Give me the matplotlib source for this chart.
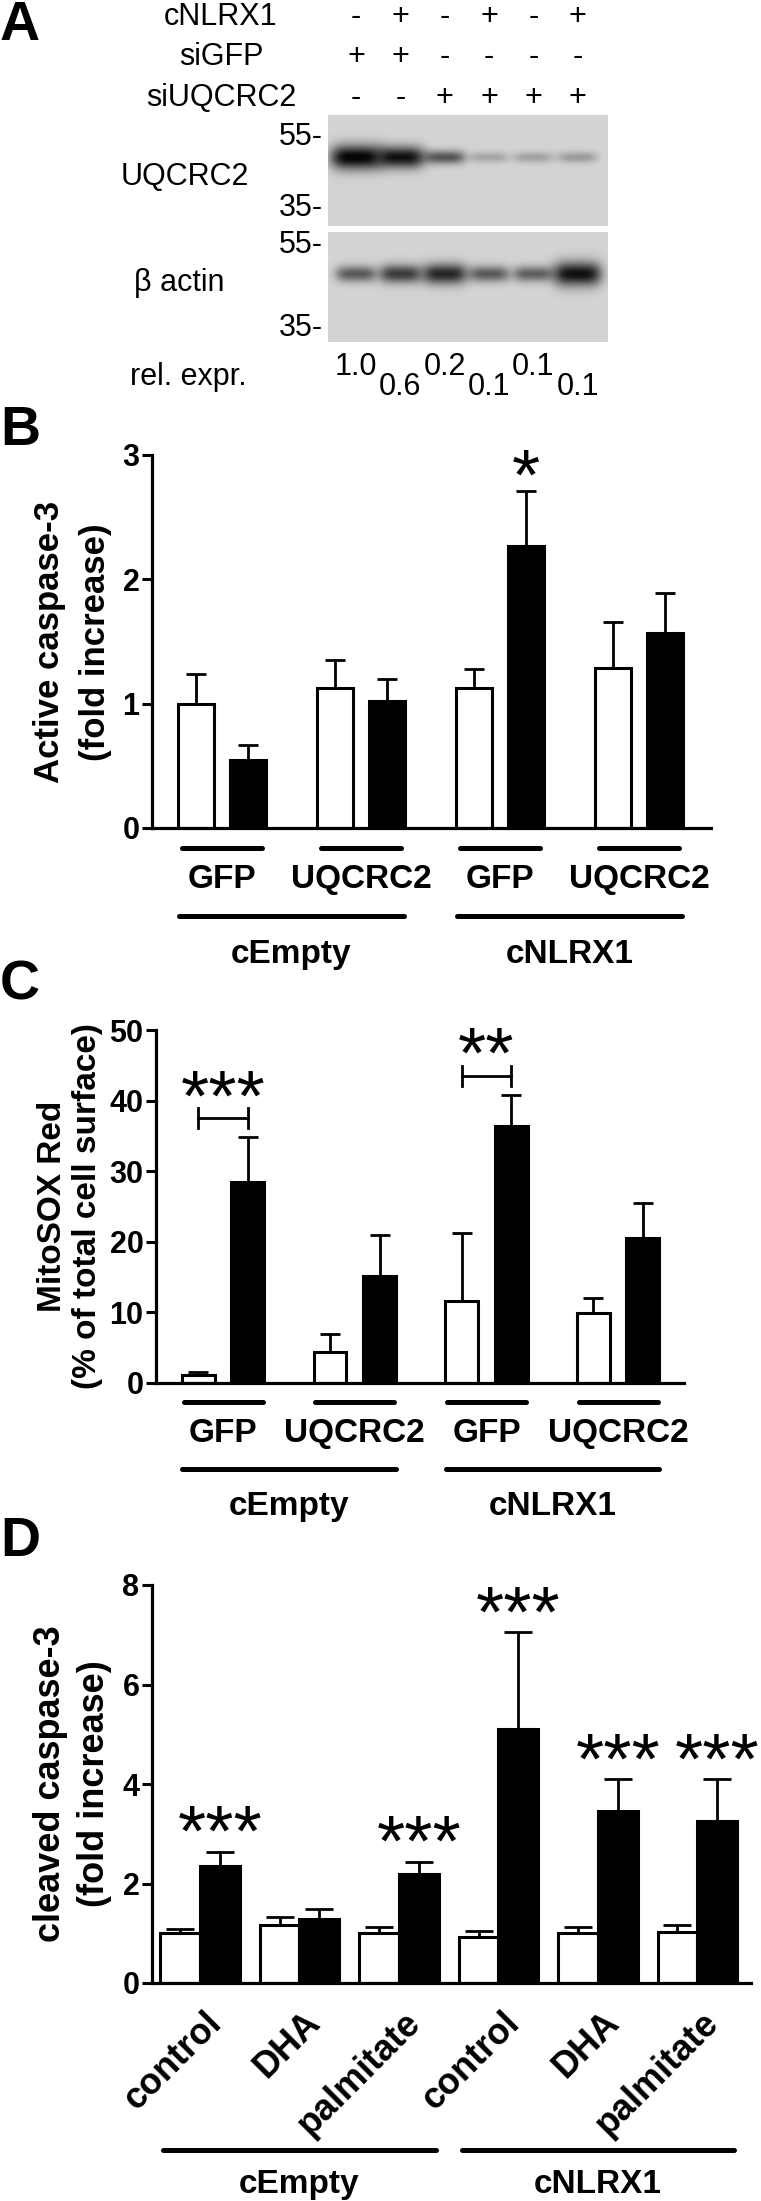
import numpy as np
import matplotlib
matplotlib.use("Agg")
import matplotlib.pyplot as plt
from matplotlib.transforms import blended_transform_factory

plt.rcParams['font.family'] = ['Liberation Sans', 'DejaVu Sans']

W, H, DPI = 761, 2201, 100

# ---------------- data ----------------
# A: western blot
lane_cnlrx1 = ['-', '+', '-', '+', '-', '+']
lane_sigfp = ['+', '+', '-', '-', '-', '-']
lane_siuqcrc2 = ['-', '-', '+', '+', '+', '+']
uqcrc2_band = [1.0, 0.93, 0.6, 0.22, 0.24, 0.27]   # band darkness
actin_band = [0.58, 0.72, 0.82, 0.58, 0.55, 0.93]
rel_expr = [1.0, 0.6, 0.2, 0.1, 0.1, 0.1]
mw_markers = ['55-', '35-']

# B: active caspase-3
b_sirna = ['GFP', 'UQCRC2', 'GFP', 'UQCRC2']
constructs = ['cEmpty', 'cNLRX1']
b_white = [1.00, 1.13, 1.13, 1.29]
b_white_err = [0.24, 0.22, 0.15, 0.37]
b_black = [0.55, 1.02, 2.27, 1.57]
b_black_err = [0.12, 0.18, 0.44, 0.32]
b_sig = ['', '', '*', '']

# C: MitoSOX
c_white = [1.1, 4.4, 11.6, 9.9]
c_white_err = [0.5, 2.5, 9.6, 2.1]
c_black = [28.5, 15.1, 36.4, 20.5]
c_black_err = [6.3, 5.8, 4.4, 5.0]
c_sig = ['***', '', '**', '']

# D: cleaved caspase-3
d_treat = ['control', 'DHA', 'palmitate', 'control', 'DHA', 'palmitate']
d_white = [1.0, 1.17, 1.0, 0.93, 1.0, 1.03]
d_white_err = [0.09, 0.15, 0.13, 0.12, 0.13, 0.13]
d_black = [2.35, 1.29, 2.19, 5.10, 3.46, 3.26]
d_black_err = [0.29, 0.19, 0.25, 1.95, 0.64, 0.84]
d_sig = ['***', '', '***', '***', '***', '***']


fig = plt.figure(figsize=(W / DPI, H / DPI), dpi=DPI)
ov = fig.add_axes([0, 0, 1, 1], zorder=10)
ov.set_xlim(0, W)
ov.set_ylim(H, 0)
ov.axis('off')


def px_axes(l, t, r, b):
    return fig.add_axes([l / W, 1 - b / H, (r - l) / W, (b - t) / H])


def star(ax, x, yc, s):
    # asterisk ink sits ~0.58 em above baseline
    ax.annotate(s, (x, yc), xytext=(0, -30), textcoords='offset points',
                ha='center', va='baseline', fontsize=52, annotation_clip=False)


for letter, y in [('A', 40), ('B', 445), ('C', 1000), ('D', 1556)]:
    ov.text(0, y, letter, fontsize=40, fontweight='bold', va='baseline')

# ---------------- A ----------------
XL = (-0.63, 5.68)


def blot(ax, darkness, frac, thick):
    xs = np.linspace(XL[0], XL[1], 280)
    ys = np.linspace(0, 1, 111)
    X, Y = np.meshgrid(xs, ys)
    clear = np.ones_like(X)
    for i, d in enumerate(darkness):
        wx = 0.45 + 0.13 * d ** 4
        wy = thick + 0.06 * d ** 3
        prof = np.exp(-np.abs((X - i) / wx) ** 4) * np.exp(-((Y - frac) / wy) ** 2)
        clear *= 1 - np.clip(d * prof, 0, 0.97)
    ax.imshow(0.83 * clear, cmap='gray', vmin=0, vmax=1, aspect='auto',
              extent=(XL[0], XL[1], 1, 0), interpolation='bilinear')
    ax.set_xlim(*XL)
    ax.set_ylim(1, 0)
    ax.axis('off')


ax_b1 = px_axes(328, 115, 608, 226)
ax_b2 = px_axes(328, 232, 608, 342)
blot(ax_b1, uqcrc2_band, 0.38, 0.05)
blot(ax_b2, actin_band, 0.38, 0.062)

ta = blended_transform_factory(ax_b1.transData, ov.transData)
fsA = 22
for name, signs, base in [('cNLRX1', lane_cnlrx1, 25), ('siGFP', lane_sigfp, 65),
                          ('siUQCRC2', lane_siuqcrc2, 106)]:
    ov.text(221, base, name, fontsize=fsA, ha='center', va='baseline')
    for i, s in enumerate(signs):
        ax_b1.text(i, base, s, fontsize=fsA, ha='center', va='baseline', transform=ta)

for y55, y35 in [(137, 208), (245, 328)]:
    ov.text(323, y55, mw_markers[0], fontsize=fsA, ha='right', va='center')
    ov.text(323, y35, mw_markers[1], fontsize=fsA, ha='right', va='center')
ov.text(185, 177, 'UQCRC2', fontsize=fsA, ha='center', va='center')
ov.text(179, 283, 'β actin', fontsize=fsA, ha='center', va='center')
ov.text(188, 385, 'rel. expr.', fontsize=fsA, ha='center', va='baseline')
for i, v in enumerate(rel_expr):
    ax_b1.text(i, 375 if i % 2 == 0 else 395, f'{v:.1f}', fontsize=fsA,
               ha='center', va='baseline', transform=ta)


# ---------------- bar panels ----------------
def bar_panel(ax, white, white_err, black, black_err, off, width, ylim, yticks, cap):
    n = len(white)
    x = np.arange(n)
    ax.bar(x - off, white, width, color='white', edgecolor='black', linewidth=2.2, zorder=2)
    ax.bar(x + off, black, width, color='black', edgecolor='black', linewidth=2.2, zorder=2)
    ax.errorbar(x - off, white, yerr=[np.zeros(n), white_err], fmt='none', ecolor='black',
                elinewidth=2, capsize=cap, capthick=2, zorder=1)
    ax.errorbar(x + off, black, yerr=[np.zeros(n), black_err], fmt='none', ecolor='black',
                elinewidth=2, capsize=cap, capthick=2, zorder=1)
    ax.set_ylim(*ylim)
    ax.set_yticks(yticks, labels=[str(t) for t in yticks], fontsize=22, fontweight='bold')
    ax.set_xticks([])
    for s in ['top', 'right']:
        ax.spines[s].set_visible(False)
    for s in ['left', 'bottom']:
        ax.spines[s].set_linewidth(2.3)
    ax.tick_params(axis='y', length=7, width=2.2, pad=2)
    ax.patch.set_alpha(0)


def group_labels(ax, sirna, y_line, y_lab, y_long, y_con, half):
    t = blended_transform_factory(ax.transData, ov.transData)
    for i, s in enumerate(sirna):
        ax.plot([i - half, i + half], [y_line, y_line], color='black', lw=3.6,
                solid_capstyle='round', transform=t, clip_on=False)
        ax.text(i, y_lab, s, fontsize=24, fontweight='bold', ha='center', va='baseline',
                transform=t)
    for k, c in enumerate(constructs):
        mid = 2 * k + 0.5
        ax.plot([mid - 0.81, mid + 0.81], [y_long, y_long], color='black', lw=3.6,
                solid_capstyle='round', transform=t, clip_on=False)
        ax.text(mid, y_con, c, fontsize=24, fontweight='bold', ha='center', va='baseline',
                transform=t)


# B
axB = px_axes(152, 455, 711, 828)
axB.set_xlim(-0.504, 3.518)
offB = 0.187
bar_panel(axB, b_white, b_white_err, b_black, b_black_err, offB, 0.26, (0, 3), [0, 1, 2, 3], 7)
for i, s in enumerate(b_sig):
    if s:
        star(axB, i + offB, b_black[i] + b_black_err[i] + 0.27, s)
group_labels(axB, b_sirna, 848, 888, 916, 963, 0.29)
ov.text(50, 642, 'Active caspase-3', fontsize=25, fontweight='bold', rotation=90,
        ha='center', va='center')
ov.text(95, 642, '(fold increase)', fontsize=25, fontweight='bold', rotation=90,
        ha='center', va='center')

# C
axC = px_axes(156, 1030, 684, 1383)
axC.set_xlim(-0.509, 3.50)
offC = 0.188
bar_panel(axC, c_white, c_white_err, c_black, c_black_err, offC, 0.25, (0, 50),
          [0, 10, 20, 30, 40, 50], 7)
for i, s in enumerate(c_sig):
    if s:
        yb = c_black[i] + c_black_err[i] + 2.7
        axC.plot([i - offC, i + offC], [yb, yb], color='black', lw=2, clip_on=False)
        for xe in (i - offC, i + offC):
            axC.plot([xe, xe], [yb - 1.4, yb + 1.4], color='black', lw=2, clip_on=False)
        star(axC, i, yb + 5.6, s)
group_labels(axC, b_sirna, 1402, 1442, 1469, 1515, 0.3)
ov.text(53, 1206, 'MitoSOX Red', fontsize=24, fontweight='bold', rotation=90,
        ha='center', va='center')
ov.text(88, 1206, '(% of total cell surface)', fontsize=24, fontweight='bold', rotation=90,
        ha='center', va='center')

# D
axD = px_axes(152, 1585, 751, 1983)
axD.set_xlim(-0.483, 5.54)
offD = 0.2
bar_panel(axD, d_white, d_white_err, d_black, d_black_err, offD, 0.40, (0, 8),
          [0, 2, 4, 6, 8], 10)
for i, s in enumerate(d_sig):
    if s:
        star(axD, i + offD, d_black[i] + d_black_err[i] + 0.75, s)
tD = blended_transform_factory(axD.transData, ov.transData)
for i, s in enumerate(d_treat):
    axD.text(i + 0.23, 2024, s, fontsize=26, fontweight='bold', rotation=45,
             rotation_mode='anchor', ha='right', va='baseline', transform=tD)
for k, c in enumerate(constructs):
    mid = 3 * k + 1
    axD.plot([mid - 1.37, mid + 1.37], [2150, 2150], color='black', lw=3.6,
             solid_capstyle='round', transform=tD, clip_on=False)
    axD.text(mid, 2193, c, fontsize=24, fontweight='bold', ha='center', va='baseline',
             transform=tD)
ov.text(51, 1784, 'cleaved caspase-3', fontsize=26, fontweight='bold', rotation=90,
        ha='center', va='center')
ov.text(95, 1784, '(fold increase)', fontsize=26, fontweight='bold', rotation=90,
        ha='center', va='center')

fig.savefig('out.png', dpi=DPI)
